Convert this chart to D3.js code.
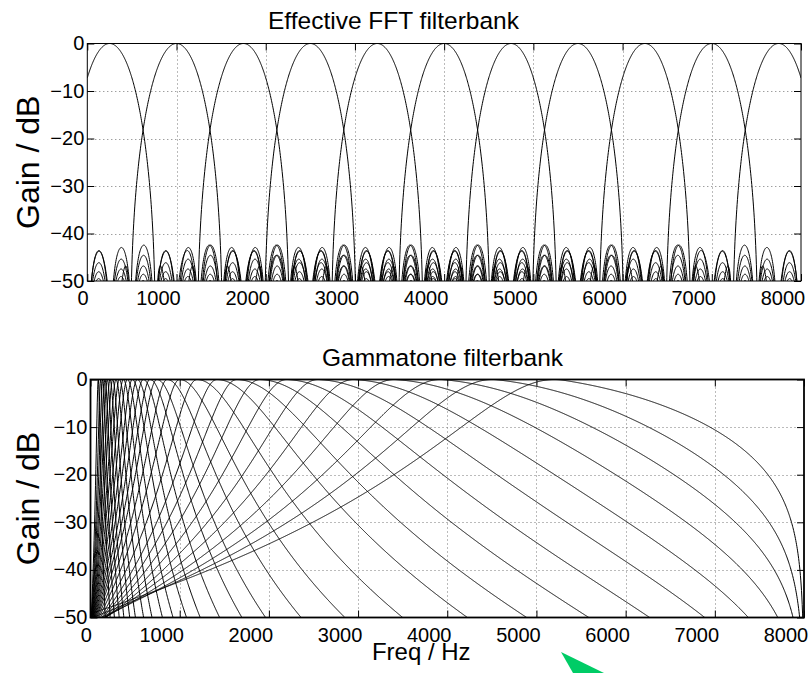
<!DOCTYPE html>
<html>
<head>
<meta charset="utf-8">
<script src="https://cdn.jsdelivr.net/npm/d3@7/dist/d3.min.js"></script>
<style>
  html, body { margin: 0; padding: 0; background: #fff; }
  svg text { font-family: "Liberation Sans", Arial, Helvetica, sans-serif; fill: #000; }
</style>
</head>
<body>
<svg id="fig" width="810" height="673"></svg>
<script>
// Sampling setup shared by both panels
const sampleRate = 16000;
const nyquist = sampleRate / 2;

// Effective FFT filterbank: 64-point Hamming window, every third bin
const fftSize = 64;
const fftBinCentersHz = [250, 1000, 1750, 2500, 3250, 4000, 4750, 5500, 6250, 7000, 7750];

// Gammatone filterbank: centre frequencies (Hz)
const gammatoneCentersHz = [87, 114, 137, 163, 188, 219, 249, 286, 323, 368, 413, 469,
  525, 592, 667, 745, 860, 1000, 1195, 1420, 1644, 1902, 2205, 2558, 2962, 3425,
  3954, 4561, 5300];
// 4th-order skirts; widths as a fraction of centre frequency
const skirtOrder = 4;
const skirtAnchorsHz = [87, 250, 525, 1000, 1420, 2000, 3000, 4561, 5300];
const lowerSkirtRatios = [0.22, 0.22, 0.22, 0.22, 0.22, 0.22, 0.22, 0.215, 0.21];
const upperSkirtRatios = [0.22, 0.25, 0.33, 0.47, 0.53, 0.58, 0.62, 0.68, 0.88];

// Axes
const freqTicks = [0, 1000, 2000, 3000, 4000, 5000, 6000, 7000, 8000];
const gainTicks = [0, -10, -20, -30, -40, -50];
const panelTitles = ["Effective FFT filterbank", "Gammatone filterbank"];
const yLabel = "Gain / dB";
const xLabel = "Freq / Hz";

// ---------------------------------------------------------------------------
const freqGrid = d3.range(0, nyquist + 0.1, 4);
const toDb = m => 20 * Math.log10(Math.max(m, 1e-12));

// Hamming window DTFT magnitude at an offset of df Hz from the bin centre
const hamming = d3.range(fftSize).map(n => 0.54 - 0.46 * Math.cos(2 * Math.PI * n / (fftSize - 1)));
const hammingSum = d3.sum(hamming);
const windowCache = new Map();
function windowGain(df) {
  const key = Math.round(df * 10);
  if (windowCache.has(key)) return windowCache.get(key);
  const w = 2 * Math.PI * df / sampleRate;
  let re = 0, im = 0;
  for (let n = 0; n < fftSize; n++) { re += hamming[n] * Math.cos(w * n); im -= hamming[n] * Math.sin(w * n); }
  const g = Math.hypot(re, im) / hammingSum;
  windowCache.set(key, g);
  return g;
}
const fftCurves = fftBinCentersHz.map(fc => freqGrid.map(f => [f, toDb(windowGain(f - fc))]));

// Gammatone magnitude: asymmetric 4th-order skirts, zero at Nyquist
const lowerRatioAt = d3.scaleLog().domain(skirtAnchorsHz).range(lowerSkirtRatios).clamp(true);
const upperRatioAt = d3.scaleLog().domain(skirtAnchorsHz).range(upperSkirtRatios).clamp(true);
function gammatoneCurve(fc) {
  const bLow = lowerRatioAt(fc) * fc;
  const bHigh = upperRatioAt(fc) * fc;
  const raw = freqGrid.map(f => {
    const x = f < fc ? (fc - f) / bLow : (f - fc) / bHigh;
    return Math.pow(1 + x * x, -skirtOrder / 2) * Math.cos(Math.PI * f / sampleRate);
  });
  const peak = d3.max(raw);
  return freqGrid.map((f, i) => [f, toDb(raw[i] / peak)]);
}
const gammatoneCurves = gammatoneCentersHz.map(gammatoneCurve);

// ---------------------------------------------------------------------------
const svg = d3.select("#fig");

const panels = [
  { title: panelTitles[0], curves: fftCurves, x: [87.3, 801], y: [281, 43.5], frame: 1, titleY: 29, titleX: 268 },
  { title: panelTitles[1], curves: gammatoneCurves, x: [90.5, 804], y: [617.5, 379.5], frame: 1.8, titleY: 366, titleX: 322 }
];

panels.forEach((p, idx) => {
  const x = d3.scaleLinear([0, nyquist], p.x);
  const y = d3.scaleLinear([-50, 0], p.y);
  const g = svg.append("g");
  const [x0, x1] = p.x, [yb, yt] = p.y;

  // dotted grid
  const grid = g.append("g").attr("stroke", "#777").attr("stroke-width", 1).attr("stroke-dasharray", "1 3");
  grid.selectAll("line.v").data(freqTicks.filter(t => t > 0 && t < nyquist)).join("line")
    .attr("x1", d => Math.round(x(d)) + 0.5).attr("x2", d => Math.round(x(d)) + 0.5)
    .attr("y1", yt).attr("y2", yb);
  grid.selectAll("line.h").data(gainTicks.filter(t => t > -50 && t < 0)).join("line")
    .attr("y1", d => Math.round(y(d)) + 0.5).attr("y2", d => Math.round(y(d)) + 0.5)
    .attr("x1", x0).attr("x2", x1);

  // curves
  const clipId = "clip" + idx;
  svg.append("clipPath").attr("id", clipId).append("rect")
    .attr("x", x0).attr("y", yt).attr("width", x1 - x0).attr("height", yb - yt);
  const line = d3.line().x(d => x(d[0])).y(d => y(Math.max(d[1], -120)));
  g.append("g").attr("clip-path", `url(#${clipId})`)
    .selectAll("path").data(p.curves).join("path")
    .attr("d", line).attr("fill", "none").attr("stroke", "#000").attr("stroke-width", 1);

  // inward ticks on all four sides
  const tick = 7;
  const bottomAxis = g.append("g").attr("transform", `translate(0,${yb})`)
    .call(d3.axisBottom(x).tickValues(freqTicks).tickSize(-tick).tickSizeOuter(0).tickFormat(d3.format("d")));
  const topAxis = g.append("g").attr("transform", `translate(0,${yt})`)
    .call(d3.axisTop(x).tickValues(freqTicks).tickSize(-tick).tickSizeOuter(0).tickFormat(""));
  const leftAxis = g.append("g").attr("transform", `translate(${x0},0)`)
    .call(d3.axisLeft(y).tickValues(gainTicks).tickSize(-tick).tickSizeOuter(0).tickFormat(d3.format("d")));
  const rightAxis = g.append("g").attr("transform", `translate(${x1},0)`)
    .call(d3.axisRight(y).tickValues(gainTicks).tickSize(-tick).tickSizeOuter(0).tickFormat(""));
  [bottomAxis, topAxis, leftAxis, rightAxis].forEach(a => {
    a.select(".domain").remove();
    a.selectAll(".tick line").attr("stroke", "#000").attr("stroke-width", 1);
    a.attr("font-family", null).attr("font-size", null);
  });

  bottomAxis.selectAll(".tick text")
    .attr("font-size", 20).attr("fill", "#000")
    .attr("text-anchor", "start")
    .attr("x", function () { return -10.2 * this.textContent.length; })
    .attr("y", 24).attr("dy", null);
  leftAxis.selectAll(".tick text")
    .attr("font-size", 20).attr("fill", "#000")
    .attr("text-anchor", "end")
    .attr("x", -3).attr("dy", "0.3em");

  // frame
  g.append("rect").attr("x", x0).attr("y", yt).attr("width", x1 - x0).attr("height", yb - yt)
    .attr("fill", "none").attr("stroke", "#000").attr("stroke-width", p.frame);

  // title and y label
  g.append("text").attr("x", p.titleX).attr("y", p.titleY).attr("font-size", 24.5).text(p.title);
  g.append("text").attr("transform", `translate(39,${(yt + yb) / 2}) rotate(-90)`)
    .attr("text-anchor", "middle").attr("font-size", 32).text(yLabel);

  if (idx === 1) {
    g.append("text").attr("x", (x0 + x1) / 2 - 26).attr("y", 660).attr("text-anchor", "middle")
      .attr("font-size", 24).text(xLabel);
  }
});

// pointer marker at the bottom edge
svg.append("polygon").attr("points", "561,652 604,673 573,673").attr("fill", "#00cc66");
</script>
</body>
</html>
